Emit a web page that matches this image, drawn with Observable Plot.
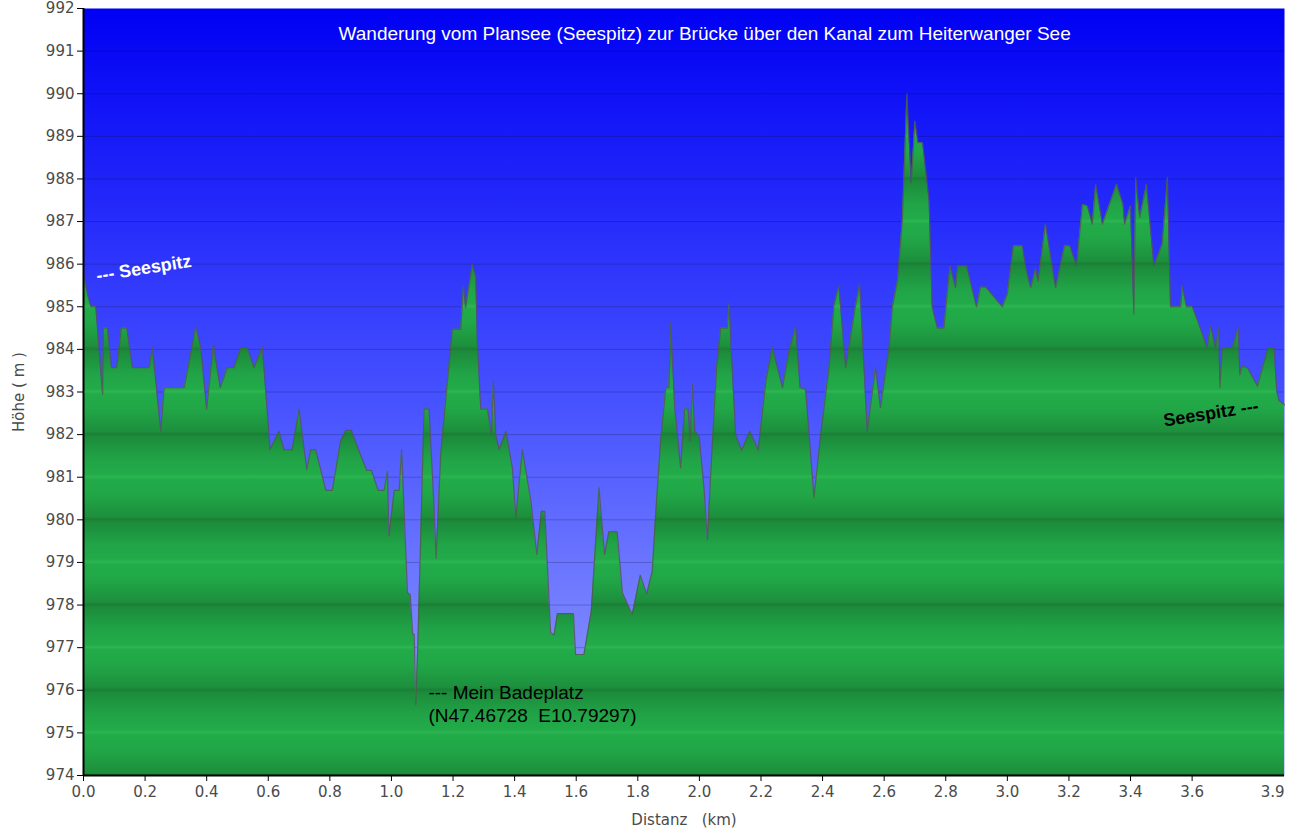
<!DOCTYPE html>
<html>
<head>
<meta charset="utf-8">
<script src="https://cdn.jsdelivr.net/npm/d3@7"></script>
<script src="https://cdn.jsdelivr.net/npm/@observablehq/plot@0.6"></script>
<style>
  html, body { margin: 0; padding: 0; background: #fff; }
  .chart g[aria-label="y-axis tick label"], .chart g[aria-label="x-axis tick label"] { fill: #4a4a4a; }
  .chart g[aria-label="y-axis label"], .chart g[aria-label="x-axis label"] { fill: #4a4a4a; }
</style>
</head>
<body>
<div id="chart"></div>
<script>
// Distance along the hike (km)
const distKm = [
  0.000, 0.013, 0.024, 0.040, 0.062, 0.065, 0.078, 0.091, 0.108, 0.123,
  0.141, 0.159, 0.213, 0.224, 0.251, 0.262, 0.327, 0.365, 0.381, 0.400,
  0.422, 0.444, 0.467, 0.489, 0.511, 0.532, 0.554, 0.581, 0.606, 0.635,
  0.651, 0.678, 0.700, 0.725, 0.738, 0.754, 0.787, 0.808, 0.835, 0.852,
  0.870, 0.895, 0.920, 0.935, 0.957, 0.976, 0.987, 0.992, 1.009, 1.025,
  1.033, 1.052, 1.061, 1.069, 1.074, 1.079, 1.086, 1.106, 1.122, 1.138,
  1.145, 1.160, 1.182, 1.198, 1.225, 1.234, 1.241, 1.263, 1.274, 1.279,
  1.290, 1.312, 1.325, 1.331, 1.339, 1.350, 1.372, 1.393, 1.404, 1.425,
  1.453, 1.472, 1.487, 1.498, 1.517, 1.528, 1.539, 1.591, 1.598, 1.625,
  1.649, 1.674, 1.692, 1.706, 1.733, 1.750, 1.782, 1.808, 1.829, 1.847,
  1.858, 1.874, 1.891, 1.901, 1.907, 1.920, 1.939, 1.952, 1.963, 1.970,
  1.977, 1.985, 1.999, 2.015, 2.026, 2.039, 2.056, 2.069, 2.091, 2.097,
  2.102, 2.118, 2.137, 2.164, 2.191, 2.216, 2.237, 2.270, 2.291, 2.313,
  2.327, 2.345, 2.372, 2.394, 2.421, 2.437, 2.453, 2.475, 2.507, 2.521,
  2.545, 2.572, 2.588, 2.616, 2.627, 2.643, 2.659, 2.674, 2.688, 2.700,
  2.710, 2.725, 2.746, 2.756, 2.773, 2.794, 2.814, 2.832, 2.839, 2.868,
  2.900, 2.913, 2.930, 2.984, 3.000, 3.020, 3.049, 3.060, 3.076, 3.092,
  3.100, 3.124, 3.157, 3.186, 3.203, 3.225, 3.244, 3.260, 3.276, 3.287,
  3.309, 3.355, 3.376, 3.381, 3.400, 3.411, 3.417, 3.430, 3.452, 3.476,
  3.503, 3.520, 3.530, 3.563, 3.568, 3.582, 3.601, 3.626, 3.649, 3.660,
  3.676, 3.687, 3.690, 3.698, 3.731, 3.750, 3.755, 3.761, 3.780, 3.812,
  3.847, 3.866, 3.875, 3.882, 3.900
];
// Elevation (m)
const elevM = [
  985.8, 985.3, 985.0, 985.0, 982.95, 984.5, 984.5, 983.57, 983.57, 984.5,
  984.5, 983.57, 983.57, 984.04, 982.08, 983.1, 983.1, 984.53, 984.04, 982.6,
  984.12, 983.1, 983.57, 983.57, 984.04, 984.04, 983.57, 984.06, 981.65, 982.08,
  981.65, 981.65, 982.6, 981.18, 981.65, 981.65, 980.69, 980.69, 981.85, 982.1,
  982.1, 981.61, 981.16, 981.16, 980.69, 980.69, 981.14, 979.62, 980.69, 980.69,
  981.65, 978.29, 978.25, 977.31, 977.31, 975.66, 977.15, 982.6, 982.6, 980.36,
  979.1, 981.54, 983.26, 984.47, 984.47, 985.49, 984.98, 986.0, 985.7, 984.2,
  982.6, 982.6, 982.0, 983.26, 982.0, 981.65, 982.08, 981.2, 980.05, 981.65,
  980.44, 979.19, 980.2, 980.2, 977.35, 977.3, 977.8, 977.8, 976.84, 976.84,
  977.86, 980.75, 979.19, 979.72, 979.72, 978.29, 977.78, 978.7, 978.26, 978.8,
  980.13, 981.85, 983.1, 983.1, 984.63, 982.63, 981.22, 982.6, 982.6, 981.85,
  983.18, 982.08, 981.97, 980.75, 979.54, 981.38, 983.57, 984.5, 984.5, 985.1,
  984.2, 982.0, 981.63, 982.08, 981.63, 983.26, 984.06, 983.1, 983.96, 984.53,
  983.1, 983.06, 980.52, 982.0, 983.57, 985.02, 985.49, 983.57, 985.02, 985.53,
  982.08, 983.57, 982.63, 984.04, 985.0, 985.6, 987.0, 990.0, 987.9, 989.36,
  988.85, 988.85, 987.5, 985.0, 984.5, 984.5, 985.96, 985.45, 985.96, 985.96,
  985.0, 985.46, 985.46, 985.0, 985.3, 986.43, 986.43, 985.92, 985.45, 985.9,
  985.6, 986.94, 985.45, 986.43, 986.43, 985.96, 987.4, 987.37, 986.94, 987.88,
  986.94, 987.88, 987.4, 986.94, 987.37, 984.83, 988.04, 987.1, 987.88, 985.96,
  986.47, 988.04, 985.0, 985.0, 985.49, 985.0, 985.0, 984.51, 984.04, 984.55,
  984.04, 984.51, 983.1, 984.04, 984.04, 984.51, 983.4, 983.6, 983.57, 983.14,
  984.04, 984.04, 983.02, 982.8, 982.7
];

const yTicks = [974, 975, 976, 977, 978, 979, 980, 981, 982, 983, 984, 985, 986, 987, 988, 989, 990, 991, 992];
const xTicks = [0, 0.2, 0.4, 0.6, 0.8, 1.0, 1.2, 1.4, 1.6, 1.8, 2.0, 2.2, 2.4, 2.6, 2.8, 3.0, 3.2, 3.4, 3.6];
const xEndTick = [3.9];
const gridLevels = [975, 976, 977, 978, 979, 980, 981, 982, 983, 984, 985, 986, 987, 988, 989, 990, 991];

const titleText = "Wanderung vom Plansee (Seespitz) zur Brücke über den Kanal zum Heiterwanger See";
const notes = [
  {km: 0.196, m: 985.9, text: "--- Seespitz", color: "#ffffff"},
  {km: 3.661, m: 982.5, text: "Seespitz ---", color: "#000000"}
];
const badeplatz = [
  {km: 1.120, m: 975.95, text: "--- Mein Badeplatz"},
  {km: 1.120, m: 975.40, text: "(N47.46728  E10.79297)"}
];
const titleRow = [{km: 2.017, m: 991.4, text: titleText}];

const profile = distKm.map((d, i) => ({km: d, m: elevM[i]}));

const chart = Plot.plot({
  width: 1299,
  height: 830,
  marginLeft: 83,
  marginRight: 15,
  marginTop: 8,
  marginBottom: 55,
  className: "chart",
  style: {fontFamily: "'DejaVu Sans', sans-serif", fontSize: "15px", background: "#fff"},
  x: {domain: [0, 3.9]},
  y: {domain: [974, 992]},
  marks: [
    Plot.frame({fill: "url(#bgGrad)", stroke: null}),
    Plot.ruleY(gridLevels, {stroke: "#000", strokeOpacity: 0.2, strokeWidth: 1}),
    Plot.areaY(profile, {x: "km", y1: 974, y2: "m", fill: "url(#greenBands)"}),
    Plot.lineY(profile, {x: "km", y: "m", stroke: "#555", strokeOpacity: 0.8, strokeWidth: 1.2}),
    Plot.text(titleRow, {x: "km", y: "m", text: "text", fill: "#ffffff", fontFamily: "'Liberation Sans', Arial, sans-serif", fontSize: 19}),
    Plot.text(notes, {x: "km", y: "m", text: "text", fill: "color", rotate: -9, fontFamily: "'Liberation Sans', Arial, sans-serif", fontSize: 18, fontWeight: "bold"}),
    Plot.text(badeplatz, {x: "km", y: "m", text: "text", fill: "#000", textAnchor: "start", fontFamily: "'Liberation Sans', Arial, sans-serif", fontSize: 19}),
    Plot.axisY({ticks: yTicks, tickFormat: d => String(d), tickSize: 6, tickPadding: 3, stroke: "#000",
      label: "Höhe ( m )", labelAnchor: "center", labelOffset: 70, labelArrow: false}),
    Plot.axisX({ticks: xTicks, tickFormat: d => d.toFixed(1), tickSize: 6, tickPadding: 5, stroke: "#000",
      label: "Distanz\u00a0\u00a0\u00a0(km)", labelAnchor: "center", labelOffset: 49, labelArrow: false}),
    Plot.axisX({ticks: xEndTick, tickFormat: d => d.toFixed(1), tickSize: 0, tickPadding: 11, textAnchor: "end", label: null}),
    Plot.ruleX([0], {stroke: "#000", strokeWidth: 2}),
    Plot.ruleY([974], {stroke: "#000", strokeWidth: 2})
  ]
});

const ys = chart.scale("y");
const yTop = ys.apply(977), yBot = ys.apply(975);
const ns = "http://www.w3.org/2000/svg";
const defs = document.createElementNS(ns, "defs");
defs.innerHTML = `
<linearGradient id="bgGrad" x1="0" y1="0" x2="0" y2="1">
  <stop offset="0" stop-color="#0000f4"/>
  <stop offset="0.5" stop-color="#4550ff"/>
  <stop offset="1" stop-color="#98a2ff"/>
</linearGradient>
<linearGradient id="greenBands" gradientUnits="userSpaceOnUse" x1="0" x2="0" y1="${yTop}" y2="${yBot}" spreadMethod="repeat">
  <stop offset="0" stop-color="#2cb552"/>
  <stop offset="0.03" stop-color="#22ab49"/>
  <stop offset="0.2" stop-color="#21a747"/>
  <stop offset="0.47" stop-color="#1d8f3d"/>
  <stop offset="0.5" stop-color="#1a7f35"/>
  <stop offset="0.53" stop-color="#1c8b3b"/>
  <stop offset="0.8" stop-color="#21a447"/>
  <stop offset="0.97" stop-color="#22ab49"/>
  <stop offset="1" stop-color="#2cb552"/>
</linearGradient>`;
chart.insertBefore(defs, chart.firstChild);
document.getElementById("chart").appendChild(chart);
</script>
</body>
</html>
